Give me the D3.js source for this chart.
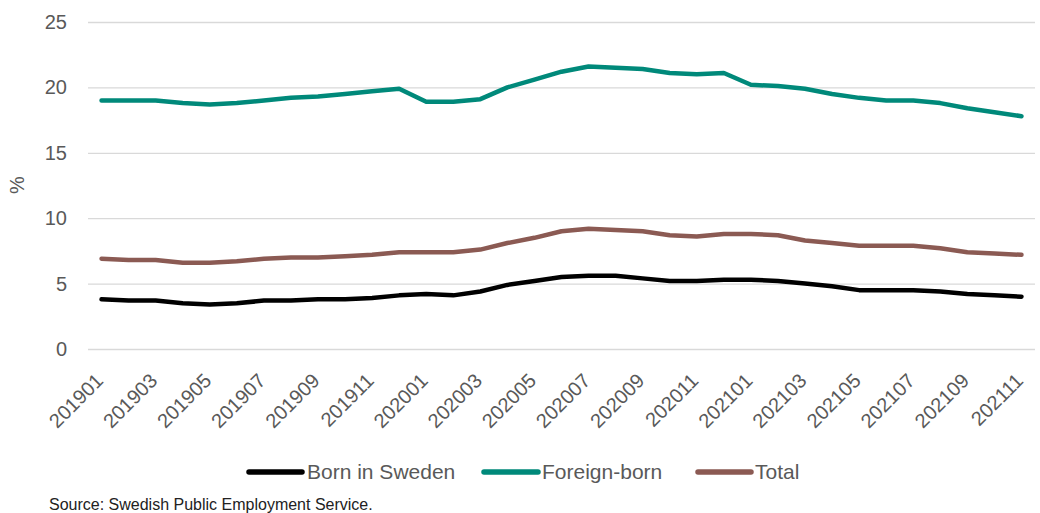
<!DOCTYPE html>
<html>
<head>
<meta charset="utf-8">
<script src="https://cdn.jsdelivr.net/npm/d3@7/dist/d3.min.js"></script>
<style>
  html, body { margin: 0; padding: 0; background: #fff; }
  svg { display: block; font-family: "Liberation Sans", Arial, sans-serif; }
</style>
</head>
<body>
<svg id="chart" width="1040" height="513"></svg>
<script>
// Monthly periods, January 2019 to November 2021
const months = [
  "201901","201902","201903","201904","201905","201906","201907","201908","201909","201910","201911","201912",
  "202001","202002","202003","202004","202005","202006","202007","202008","202009","202010","202011","202012",
  "202101","202102","202103","202104","202105","202106","202107","202108","202109","202110","202111"
];

// Unemployment rate, %
const bornInSweden = [
  3.8, 3.7, 3.7, 3.5, 3.4, 3.5, 3.7, 3.7, 3.8, 3.8, 3.9, 4.1,
  4.2, 4.1, 4.4, 4.9, 5.2, 5.5, 5.6, 5.6, 5.4, 5.2, 5.2, 5.3,
  5.3, 5.2, 5.0, 4.8, 4.5, 4.5, 4.5, 4.4, 4.2, 4.1, 4.0
];
const foreignBorn = [
  19.0, 19.0, 19.0, 18.8, 18.7, 18.8, 19.0, 19.2, 19.3, 19.5, 19.7, 19.9,
  18.9, 18.9, 19.1, 20.0, 20.6, 21.2, 21.6, 21.5, 21.4, 21.1, 21.0, 21.1,
  20.2, 20.1, 19.9, 19.5, 19.2, 19.0, 19.0, 18.8, 18.4, 18.1, 17.8
];
const total = [
  6.9, 6.8, 6.8, 6.6, 6.6, 6.7, 6.9, 7.0, 7.0, 7.1, 7.2, 7.4,
  7.4, 7.4, 7.6, 8.1, 8.5, 9.0, 9.2, 9.1, 9.0, 8.7, 8.6, 8.8,
  8.8, 8.7, 8.3, 8.1, 7.9, 7.9, 7.9, 7.7, 7.4, 7.3, 7.2
];

const yTicks = [0, 5, 10, 15, 20, 25];
const xTickLabels = months.filter((m, i) => i % 2 === 0);

const seriesNames = ["Born in Sweden", "Foreign-born", "Total"];
const seriesColors = ["#000000", "#00897a", "#8b5a53"];
const seriesValues = [bornInSweden, foreignBorn, total];

const svg = d3.select("#chart");
const plot = { left: 88, right: 1035, top: 22, bottom: 349 };

const x = d3.scaleBand().domain(months).range([plot.left, plot.right]);
const y = d3.scaleLinear().domain([0, 25]).range([plot.bottom, plot.top]);
const xc = m => x(m) + x.bandwidth() / 2;

// Horizontal gridlines and value labels
const yAxis = svg.append("g")
  .attr("transform", `translate(${plot.left},0)`)
  .call(d3.axisLeft(y).tickValues(yTicks).tickSize(-(plot.right - plot.left)).tickPadding(21));
yAxis.select(".domain").remove();
yAxis.selectAll(".tick line").attr("stroke", "#d9d9d9").attr("stroke-width", 1.3);
yAxis.selectAll(".tick text")
  .attr("fill", "#595959")
  .style("font-size", "20px")
  .style("font-family", "'Liberation Sans', Arial, sans-serif");

// Unit label
svg.append("text")
  .attr("transform", "translate(24,185) rotate(-90)")
  .attr("text-anchor", "middle")
  .attr("fill", "#595959")
  .style("font-size", "20px")
  .text("%");

// Period labels, every second month
const xAxis = svg.append("g")
  .attr("transform", `translate(0,${plot.bottom})`)
  .call(d3.axisBottom(x).tickValues(xTickLabels).tickSize(0).tickPadding(0));
xAxis.select(".domain").remove();
xAxis.selectAll(".tick text")
  .attr("fill", "#595959")
  .style("font-size", "20px")
  .style("font-family", "'Liberation Sans', Arial, sans-serif")
  .attr("text-anchor", "end")
  .attr("dominant-baseline", "central")
  .attr("dy", null)
  .attr("y", 0)
  .attr("transform", "translate(-2,28) rotate(-45)");

// Series lines
const line = d3.line()
  .x((d, i) => xc(months[i]))
  .y(d => y(d));

seriesValues.forEach((vals, k) => {
  svg.append("path")
    .datum(vals)
    .attr("fill", "none")
    .attr("stroke", seriesColors[k])
    .attr("stroke-width", 4.5)
    .attr("stroke-linejoin", "round")
    .attr("stroke-linecap", "round")
    .attr("d", line);
});

// Legend
const legendItems = [
  { x0: 249, x1: 302, tx: 307 },
  { x0: 484, x1: 538, tx: 542 },
  { x0: 698, x1: 751, tx: 755 }
];
const legend = svg.append("g");
seriesNames.forEach((name, k) => {
  const it = legendItems[k];
  legend.append("line")
    .attr("x1", it.x0).attr("x2", it.x1)
    .attr("y1", 472).attr("y2", 472)
    .attr("stroke", seriesColors[k])
    .attr("stroke-width", 5.5)
    .attr("stroke-linecap", "round");
  legend.append("text")
    .attr("x", it.tx).attr("y", 479)
    .attr("fill", "#595959")
    .style("font-size", "21px")
    .text(name);
});

// Source note
svg.append("text")
  .attr("x", 49).attr("y", 510)
  .attr("fill", "#222")
  .style("font-size", "16px")
  .text("Source: Swedish Public Employment Service.");
</script>
</body>
</html>
